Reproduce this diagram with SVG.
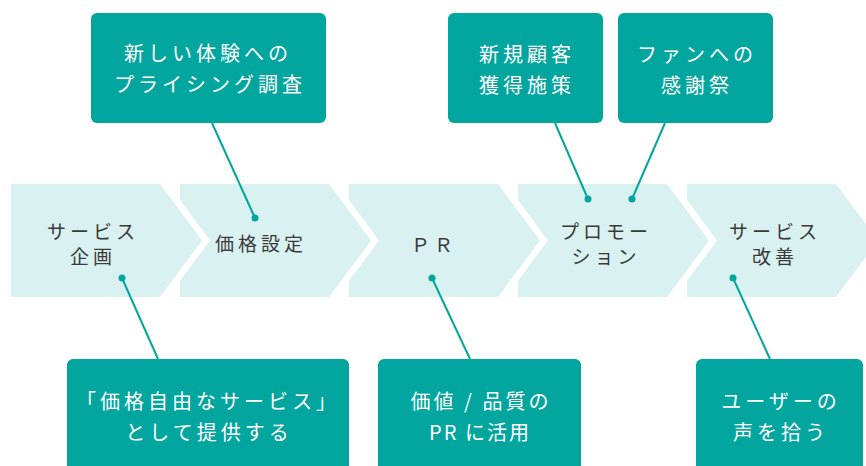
<svg xmlns="http://www.w3.org/2000/svg" width="866" height="466" viewBox="0 0 866 466">
<style>
.chev{fill:#d9f1f0}
.stage{font-family:"Noto Sans CJK JP","Noto Sans",sans-serif;font-size:19px;fill:#3a3a3a;text-anchor:middle;letter-spacing:4px}
.box{fill:#03a69f}
.note{font-family:"Noto Sans CJK JP","Noto Sans",sans-serif;font-size:20px;fill:#ffffff;text-anchor:middle;letter-spacing:4px}
.conn line{stroke:#03a69f;stroke-width:2}
.conn circle{fill:#03a69f}
</style>
<rect width="866" height="466" fill="#ffffff"/>
<g id="stage-planning">
<polygon class="chev" points="11,184 160,184 202,240.5 160,297 11,297"/>
<text class="stage" x="93" y="239">サービス</text>
<text class="stage" x="93" y="264">企画</text>
</g>
<g id="stage-pricing">
<polygon class="chev" points="180,184 329,184 371,240.5 329,297 180,297 180,281 210,240.5 180,200"/>
<text class="stage" x="261" y="251">価格設定</text>
</g>
<g id="stage-pr">
<polygon class="chev" points="349,184 498,184 540,240.5 498,297 349,297 349,281 379,240.5 349,200"/>
<text class="stage" x="434" y="252">ＰＲ</text>
</g>
<g id="stage-promotion">
<polygon class="chev" points="518,184 667,184 709,240.5 667,297 518,297 518,281 548,240.5 518,200"/>
<text class="stage" x="606" y="239">プロモー</text>
<text class="stage" x="606" y="264">ション</text>
</g>
<g id="stage-improve">
<polygon class="chev" points="687,184 836,184 878,240.5 836,297 687,297 687,281 717,240.5 687,200"/>
<text class="stage" x="775" y="239">サービス</text>
<text class="stage" x="775" y="264">改善</text>
</g>
<g class="conn" id="connectors">
<line x1="212" y1="123" x2="255" y2="218"/><circle cx="255" cy="218" r="3.5"/>
<line x1="555" y1="123" x2="588" y2="199"/><circle cx="588" cy="199" r="3.5"/>
<line x1="665" y1="123" x2="632" y2="199"/><circle cx="632" cy="199" r="3.5"/>
<line x1="122" y1="278" x2="158" y2="359"/><circle cx="122" cy="278" r="3.5"/>
<line x1="432" y1="278" x2="470" y2="359"/><circle cx="432" cy="278" r="3.5"/>
<line x1="733" y1="278" x2="770" y2="359"/><circle cx="733" cy="278" r="3.5"/>
</g>
<g id="note-pricing-research">
<rect class="box" x="91" y="13" width="235" height="110" rx="6"/>
<text class="note" x="208" y="61">新しい体験への</text>
<text class="note" x="210" y="92">プライシング調査</text>
</g>
<g id="note-new-customers">
<rect class="box" x="448" y="13" width="155" height="110" rx="6"/>
<text class="note" x="527" y="62">新規顧客</text>
<text class="note" x="527" y="93">獲得施策</text>
</g>
<g id="note-fan-thanks">
<rect class="box" x="618" y="13" width="155" height="110" rx="6"/>
<text class="note" x="697" y="62">ファンへの</text>
<text class="note" x="697" y="93">感謝祭</text>
</g>
<g id="note-free-pricing">
<rect class="box" x="67" y="359" width="282" height="115" rx="6"/>
<text class="note" x="208" y="409">「価格自由なサービス」</text>
<text class="note" x="209" y="440">として提供する</text>
</g>
<g id="note-value-pr">
<rect class="box" x="378" y="359" width="203" height="115" rx="6"/>
<text class="note" x="481" y="409" style="letter-spacing:3px">価値 / 品質の</text>
<text class="note" x="480" y="440" style="letter-spacing:2px">PR に活用</text>
</g>
<g id="note-user-voice">
<rect class="box" x="696" y="359" width="167" height="115" rx="6"/>
<text class="note" x="781" y="409">ユーザーの</text>
<text class="note" x="781" y="440">声を拾う</text>
</g>
</svg>
